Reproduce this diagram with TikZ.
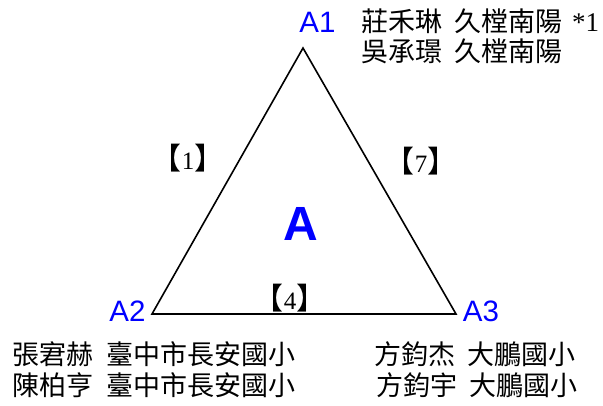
\documentclass[tikz,border=0pt]{standalone}
\usepackage{fontspec}
\setmainfont{Liberation Serif}
\newfontfamily\cjk{Noto Sans CJK TC}
\newfontfamily\lsans{Liberation Sans}
\definecolor{vblue}{RGB}{0,0,255}
\newcommand{\brk}[1]{{\cjk\fontsize{30}{30}\selectfont 【}{\fontsize{25}{25}\selectfont #1}{\cjk\fontsize{30}{30}\selectfont 】}}
\begin{document}
\begin{tikzpicture}[x=1pt,y=-1pt,
  vlabel/.style={font=\lsans\fontsize{29.5}{29.5}\selectfont, text=vblue, inner sep=0},
  names/.style={font=\cjk\fontsize{27}{27}\selectfont, inner sep=0, anchor=west, text=black},
  edgelab/.style={inner sep=0}]
\useasboundingbox (0,0) rectangle (603,405);
\coordinate (v1) at (303,48);
\coordinate (v2) at (152,314);
\coordinate (v3) at (456,314);
\draw[line width=1.6pt] (v1) -- (v2) -- (v3) -- cycle;
\node[vlabel] (a1) at (317.5,22.5) {A1};
\node[vlabel] (a2) at (127.5,311) {A2};
\node[vlabel] (a3) at (481,311) {A3};
\node[inner sep=0, text=vblue, font=\lsans\bfseries\fontsize{48}{48}\selectfont] (ac) at (300.5,223.5) {A};
\node[edgelab] (e1) at (188,158.5) {\brk{1}};
\node[edgelab] (e7) at (421,161.5) {\brk{7}};
\node[edgelab] (e4) at (290,298.5) {\brk{4}};
\node[names] (t1) at (361,21) {莊禾琳\hspace{12pt}久樘南陽\hspace{10pt}{\rmfamily *1}};
\node[names] (t2) at (361,51) {吳承璟\hspace{12pt}久樘南陽};
\node[names] (b1) at (12,354) {張宭赫\hspace{13pt}臺中市長安國小};
\node[names] (b2) at (12,385) {陳柏亨\hspace{13pt}臺中市長安國小};
\node[names] (b3) at (374,354) {方鈞杰\hspace{12pt}大鵬國小};
\node[names] (b4) at (376,385) {方鈞宇\hspace{12pt}大鵬國小};
\end{tikzpicture}
\end{document}
